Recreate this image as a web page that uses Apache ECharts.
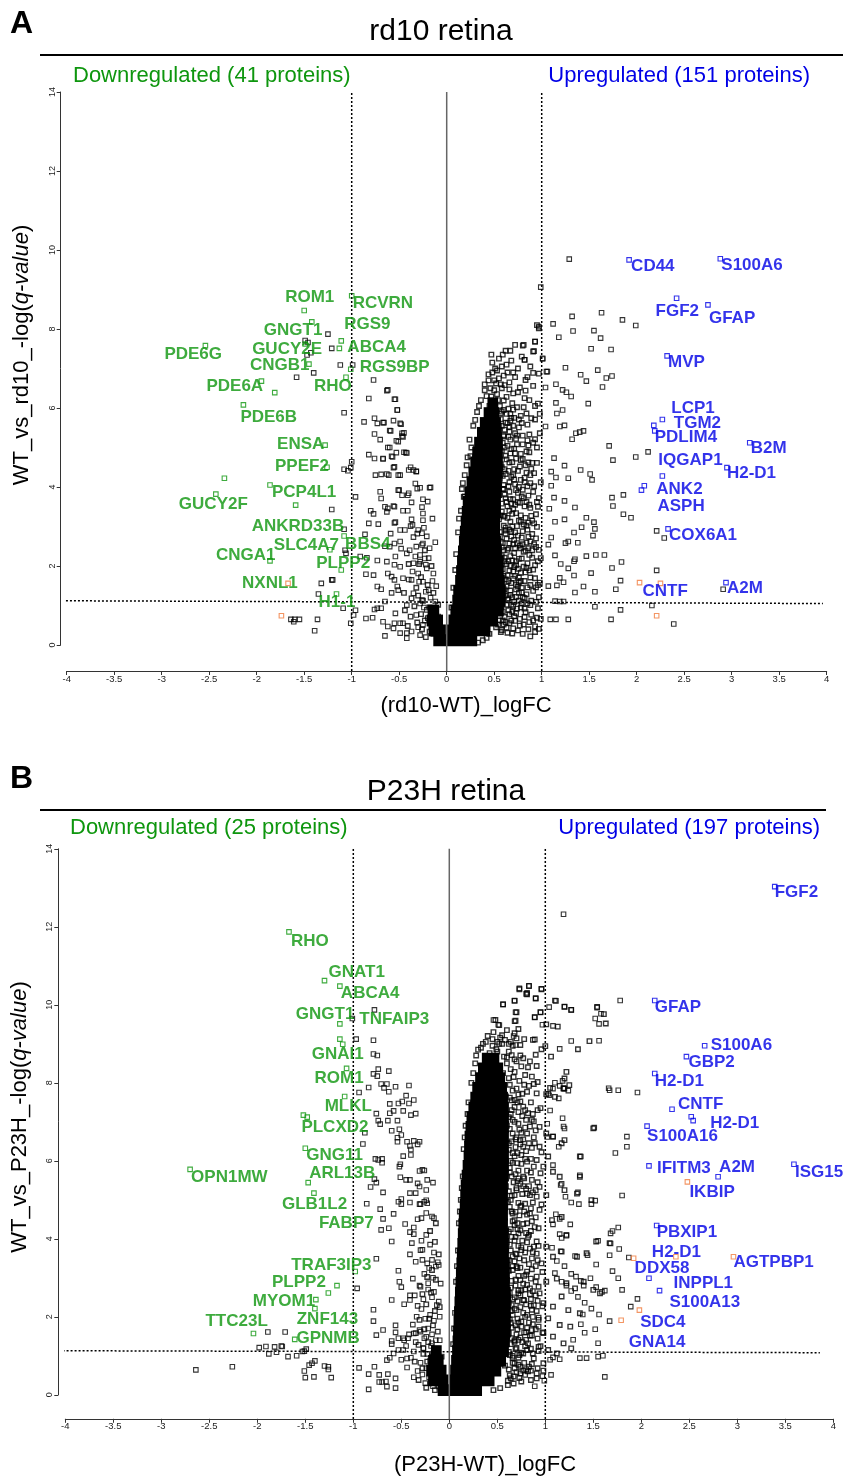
<!DOCTYPE html>
<html><head><meta charset="utf-8">
<script src="https://cdn.jsdelivr.net/npm/echarts@6/dist/echarts.min.js"></script>
<style>html,body{margin:0;padding:0;background:#fff}#c{width:843px;height:1477px}</style>
</head><body><div id="c"></div>
<script>
// ---------------- axis ticks ----------------
const xTicks = [-4,-3.5,-3,-2.5,-2,-1.5,-1,-0.5,0,0.5,1,1.5,2,2.5,3,3.5,4];
const yTicks = [0,2,4,6,8,10,12,14];
const fcThresholds = [-1, 1];

// ---------------- Panel A: rd10 ----------------
// dense core of overlapping points: [-log q, logFC from, logFC to]
const coreA = [
[0.12,-0.12,0.30],
[0.37,-0.17,-0.03],[0.37,0.02,0.44],
[0.62,-0.19,-0.06],[0.62,0.04,0.52],
[0.87,-0.18,-0.10],[0.87,0.06,0.58],
[1.12,0.08,0.60],[1.37,0.09,0.60],[1.62,0.11,0.59],[1.87,0.12,0.58],[2.12,0.13,0.58],
[2.37,0.14,0.56],[2.62,0.15,0.55],[2.87,0.16,0.54],[3.12,0.17,0.54],[3.37,0.18,0.55],
[3.62,0.19,0.55],[3.87,0.21,0.56],[4.12,0.23,0.56],[4.37,0.25,0.57],[4.62,0.27,0.57],
[4.87,0.29,0.57],[5.12,0.31,0.57],[5.37,0.34,0.56],[5.62,0.37,0.55],[5.87,0.41,0.53],[6.12,0.45,0.52]
];
// individual proteins around the core and to the right: [logFC, -log q]
const haloA = [
[0.52,0.45],[0.55,0.62],[0.58,0.38],[0.61,0.71],[0.57,0.95],[0.63,1.02],[0.66,0.55],[0.69,0.84],[0.54,1.21],[0.6,1.33],[0.65,1.18],[0.71,1.09],[0.73,1.41],[0.56,1.52],[0.62,1.66],[0.68,1.57],[0.53,1.78],[0.59,1.92],[0.66,1.88],[0.72,1.75],[0.55,2.08],[0.61,2.21],[0.69,2.14],[0.52,2.35],[0.58,2.47],[0.64,2.41],[0.71,2.33],[0.5,2.62],[0.56,2.74],[0.63,2.69],[0.68,2.86],[0.53,2.93],[0.6,3.02],[0.74,2.58],[0.48,0.85],[0.5,1.62],[0.47,2.2],[0.64,0.31],[0.7,0.42],[0.59,1.45],[0.67,2.01],[0.75,1.93],[0.51,1.08],[0.57,2.61],[0.62,2.9],[0.7,2.55],[0.45,0.28],[0.42,0.18],[0.38,0.12],[0.33,0.06],
[0.77,0.49],[0.82,0.71],[0.86,0.4],[0.91,0.62],[0.96,0.93],[0.79,1.05],[0.84,1.28],[0.89,1.12],[0.94,1.46],[0.78,1.62],[0.83,1.84],[0.88,1.71],[0.93,2.02],[0.98,1.58],[0.76,2.18],[0.81,2.36],[0.87,2.28],[0.92,2.55],[0.97,2.41],[0.79,2.72],[0.85,2.92],[0.9,2.81],[0.95,2.99],[0.99,0.66],[0.97,1.21],[0.8,0.28],[0.88,0.22],[0.93,0.33],[0.84,2.59],[0.76,1.32],[0.99,2.2],[0.91,1.91],
[0.55,3.18],[0.61,3.27],[0.67,3.12],[0.73,3.34],[0.52,3.46],[0.58,3.58],[0.64,3.51],[0.7,3.69],[0.77,3.6],[0.54,3.83],[0.6,3.95],[0.66,3.88],[0.72,4.07],[0.56,4.21],[0.62,4.33],[0.68,4.26],[0.75,4.41],[0.57,4.58],[0.63,4.7],[0.69,4.63],[0.58,4.92],[0.64,5.04],[0.71,4.97],[0.6,5.28],[0.66,5.4],[0.73,5.22],[0.62,5.63],[0.68,5.75],[0.57,5.86],[0.65,5.98],[0.78,4.84],[0.76,5.51],[0.8,3.93],[0.54,5.2],[0.55,5.55],
[0.83,3.22],[0.88,3.47],[0.94,3.31],[0.86,3.78],[0.92,4.02],[0.97,3.72],[0.82,4.23],[0.89,4.46],[0.95,4.61],[0.84,4.9],[0.91,5.12],[0.98,5.36],[0.85,5.58],[0.93,5.71],[0.99,4.12],[0.87,5.33],
[0.95,8.1],[0.97,8.02],[0.81,7.6],[0.93,7.68],[0.91,7.43],[0.82,7.22],[0.75,7.0],[0.85,6.78],[0.91,6.89],[0.52,6.62],[0.61,6.58],[0.66,6.47],[0.7,6.37],[0.77,6.52],[0.83,6.44],[0.91,6.56],[0.47,6.29],[0.54,6.2],[0.6,6.19],[0.87,6.2],[0.93,6.05],[0.45,6.05],[0.49,5.88],[0.58,5.91],[0.67,5.85],[0.74,6.02],[0.84,5.86],[0.89,5.74],[0.98,5.85],[0.72,6.78],[0.64,6.9],[0.88,7.05],[0.79,7.3],[0.81,6.02],[0.96,6.11],[0.83,6.71],[0.97,6.87],
[0.07,1.45],[0.1,2.3],[0.12,2.85],[0.15,3.4],[0.16,3.95],[0.19,4.3],[0.22,4.75],[0.24,5.2],[0.28,5.55],[0.32,5.9],[0.36,6.2],[0.4,6.45],[0.44,6.7],[0.05,0.95],[0.09,1.9],[0.13,3.2],[0.18,3.75],[0.21,4.55],[0.26,5.0],[0.3,5.7],[0.34,6.05],[0.17,4.1],[0.25,4.78],[0.19,3.76],[0.22,3.63]
];
const haloA2 = [
[0.6,0.52],[0.66,0.78],[0.72,0.61],[0.62,1.25],[0.68,1.02],[0.74,0.92],[0.6,1.75],[0.67,1.38],[0.73,1.22],[0.79,1.45],[0.63,2.05],[0.7,1.68],[0.76,1.58],[0.81,1.98],[0.6,2.4],[0.66,2.57],[0.73,2.12],[0.78,2.45],[0.62,2.82],[0.69,3.0],[0.75,2.77],[0.81,3.05],[0.6,3.25],[0.66,3.4],[0.72,3.55],[0.78,3.28],[0.62,3.72],[0.68,3.58],[0.75,3.85],[0.6,4.05],[0.66,4.12],[0.71,4.45],[0.78,4.18],[0.61,4.45],[0.67,4.85],[0.73,4.72],[0.59,5.12],[0.65,5.27],[0.7,5.55],[0.61,5.45],[0.67,5.68],[0.6,5.95],[0.56,6.05],[0.63,6.28],[0.58,6.5],[0.85,1.05],[0.88,1.52],[0.9,2.4],[0.86,3.1],[0.84,3.62],[0.88,4.1],[0.83,4.55],[0.86,5.05],[0.8,5.3],[0.78,5.8],[0.94,2.7],[0.96,3.5],[0.92,4.35],[0.95,5.0],[0.82,0.92],
[0.5,6.45],[0.55,6.75],[0.48,6.9],[0.58,7.05],[0.68,7.2],[0.62,7.45],[0.72,7.6]
];
const haloA3 = [
[0.57,0.33],[0.63,0.44],[0.69,0.29],[0.75,0.37],[0.81,0.52],[0.87,0.58],[0.93,0.47],[0.97,0.41],
[0.59,0.62],[0.65,0.88],[0.71,0.73],[0.77,0.66],[0.83,0.83],[0.89,0.77],[0.95,0.69],
[0.58,1.08],[0.64,1.15],[0.7,0.98],[0.76,1.12],[0.82,1.19],[0.88,1.01],[0.94,1.09],
[0.61,1.41],[0.67,1.27],[0.73,1.53],[0.79,1.33],[0.85,1.46],[0.91,1.37],[0.96,1.52],
[0.58,1.63],[0.64,1.77],[0.7,1.86],[0.76,1.71],[0.82,1.62],[0.87,1.89],[0.93,1.69],
[0.61,2.12],[0.67,2.25],[0.73,2.02],[0.79,2.19],[0.85,2.07],[0.9,2.21],[0.96,2.12],
[0.59,2.58],[0.65,2.45],[0.71,2.66],[0.77,2.52],[0.83,2.39],[0.88,2.62],[0.94,2.48],
[0.62,2.97],[0.68,2.75],[0.74,3.01],[0.8,2.88],[0.86,2.74],[0.92,3.08],
[0.58,3.38],[0.64,3.22],[0.7,3.45],[0.76,3.15],[0.82,3.51],[0.89,3.27],[0.95,3.62],
[0.61,3.81],[0.67,3.69],[0.73,3.92],[0.79,3.76],[0.85,4.02],[0.91,3.88],
[0.59,4.28],[0.65,4.41],[0.71,4.19],[0.77,4.52],[0.84,4.36],[0.9,4.61],
[0.62,4.79],[0.68,4.96],[0.74,5.08],[0.8,4.71],[0.87,4.88],[0.93,5.21],
[0.6,5.31],[0.66,5.52],[0.72,5.36],[0.79,5.62],[0.85,5.18],
[0.57,5.72],[0.63,5.85],[0.7,5.96],[0.76,5.71],[0.82,6.25],[0.69,6.12],[0.75,6.4]
];
const haloA4 = [
[0.42,6.3],[0.46,6.5],[0.5,6.7],[0.53,6.35],[0.57,6.6],[0.44,6.85],[0.51,7.0],[0.55,7.25],[0.6,6.82],[0.63,7.1],[0.48,7.15],[0.66,6.65],[0.7,6.9],[0.59,7.35],[0.67,7.45],[0.53,6.95],[0.4,6.6],[0.47,7.35],
[0.54,0.52],[0.59,0.85],[0.62,0.58],[0.68,0.62],[0.73,0.81],[0.78,0.95],[0.56,1.35],[0.63,1.48],[0.69,1.21],[0.75,1.48],[0.8,1.21],[0.57,1.7],[0.65,1.62],[0.71,1.97],[0.78,1.83],[0.84,1.95],[0.58,2.25],[0.65,2.12],[0.72,2.45],[0.8,2.55],[0.86,2.45],[0.56,2.86],[0.66,2.92],[0.72,2.85],[0.78,3.12],[0.84,3.02],[0.9,3.15],[0.57,3.28],[0.63,3.62],[0.69,3.32],[0.75,3.62],[0.81,3.72],[0.87,3.55],[0.59,3.95],[0.65,4.02],[0.7,4.3],[0.76,4.0],[0.82,4.12],[0.88,4.3],[0.58,4.5],[0.66,4.62],[0.72,4.85],[0.78,4.68],[0.86,4.62],[0.61,5.0],[0.67,5.2],[0.74,5.3],[0.8,5.08],[0.58,5.55],[0.64,5.62],[0.71,5.75]
];
const rightA = [
[1.29,9.77],[0.99,9.06],[1.32,8.32],[1.63,8.41],[1.85,8.23],[1.99,8.09],[1.12,8.13],[0.97,8.06],[1.33,7.95],[1.55,7.96],[1.62,7.77],[1.18,7.79],[0.93,7.68],[0.80,7.58],[1.52,7.50],[1.73,7.48],[0.92,7.44],[0.82,7.22],[1.01,7.24],[1.25,7.02],[1.59,6.96],[1.06,6.92],[1.41,6.84],[1.68,6.76],[1.74,6.81],[1.47,6.68],[1.64,6.53],[1.15,6.60],[1.22,6.46],[1.26,6.40],[1.31,6.29],[1.15,6.13],[1.49,6.11],[1.22,5.95],[1.16,5.86],[1.19,5.53],[1.24,5.56],[1.36,5.36],[1.40,5.39],[1.44,5.42],[1.32,5.21],[1.71,5.04],[1.75,4.68],[1.99,4.76],[2.12,4.89],[1.13,4.73],[1.24,4.54],[1.41,4.43],[1.51,4.33],[1.53,4.18],[1.28,4.22],[1.15,4.24],[1.10,4.39],[1.10,4.03],[1.74,3.73],[1.86,3.80],[1.75,3.52],[1.24,3.65],[1.13,3.73],[1.08,3.45],[1.35,3.48],[1.86,3.31],[1.94,3.22],[1.47,3.22],[1.55,3.11],[1.24,3.18],[1.14,3.12],[1.42,2.98],[1.56,2.94],[2.21,2.89],[2.29,2.71],[1.34,2.85],[1.54,2.77],[1.10,2.72],[1.25,2.58],[1.28,2.62],[1.38,2.59],[1.07,2.54],[1.47,2.25],[1.57,2.28],[1.66,2.28],[1.35,2.17],[1.34,2.12],[1.14,2.27],[1.20,2.05],[1.84,2.10],[1.74,1.95],[2.21,1.89],[1.28,1.94],[1.52,1.82],[1.34,1.76],[1.19,1.70],[1.83,1.63],[1.23,1.59],[1.16,1.51],[1.44,1.48],[1.78,1.41],[1.56,1.35],[1.35,1.33],[1.07,1.49],[1.14,1.11],[1.19,1.10],[1.23,1.10],[1.56,0.97],[1.83,0.89],[2.16,1.00],[1.09,0.65],[1.15,0.65],[1.28,0.65],[1.73,0.65],[2.39,0.53],[2.91,1.41],[1.04,6.52],[1.05,6.92],[1.04,5.53],[1.01,7.26]
];
const leftA = [
[-0.62,6.46],[-0.54,6.22],[-0.52,5.95],[-0.66,5.63],[-0.48,5.59],[-0.6,5.43],[-0.47,5.36],[-0.46,5.27],[-0.53,5.17],[-0.62,5.0],[-0.53,4.87],[-0.58,4.78],[-0.43,4.87],[-0.67,4.72],[-0.55,4.51],[-0.38,4.5],[-0.32,4.39],[-0.49,4.3],[-0.63,4.33],[-0.33,4.09],[-0.28,3.98],[-0.18,3.98],[-0.51,3.92],[-0.4,3.84],[-0.37,3.61],[-0.25,3.69],[-0.56,3.52],[-0.62,3.46],[-0.26,3.49],[-0.46,3.4],[-0.15,3.2],[-0.25,3.16],[-0.36,3.04],[-0.44,2.91],[-0.54,3.11],[-0.3,2.91],[-0.26,2.83],[-0.35,2.73],[-0.49,2.62],[-0.6,2.49],[-0.25,2.57],[-0.32,2.49],[-0.18,2.45],[-0.42,2.32],[-0.54,2.24],[-0.28,2.28],[-0.23,2.19],[-0.35,2.07],[-0.63,2.11],[-0.49,1.98],[-0.21,1.94],[-0.14,1.81],[-0.3,1.81],[-0.58,1.73],[-0.4,1.66],[-0.25,1.6],[-0.11,1.49],[-0.19,1.39],[-0.51,1.39],[-0.35,1.31],[-0.65,1.1],[-0.26,1.14],[-0.12,1.1],[-0.42,1.01],[-0.21,0.89],[-0.54,0.8],[-0.32,0.76],[-0.09,0.72],[-0.67,0.59],[-0.46,0.55],[-0.25,0.51],[-0.16,0.42],[-0.37,0.34],[-0.56,0.42],[-0.28,0.25],[-0.42,0.17],[-0.49,0.3],
[-0.77,6.71],[-0.63,6.44],[-0.55,6.22],[-0.82,6.24],[-0.52,5.95],[-1.08,5.88],[-0.87,5.65],[-0.76,5.74],[-0.73,5.61],[-0.67,5.63],[-0.56,5.68],[-0.49,5.61],[-0.76,5.34],[-0.7,5.2],[-0.59,5.42],[-0.45,5.37],[-0.47,5.29],[-0.6,5.0],[-0.51,5.15],[-0.82,4.82],[-0.76,4.72],[-0.67,4.71],[-0.57,4.76],[-0.45,4.88],[-0.42,4.86],[-1.08,4.45],[-1.04,4.41],[-1.01,4.49],[-1.0,4.64],[-0.75,4.3],[-0.69,4.32],[-0.61,4.3],[-0.56,4.49],[-0.51,4.3],[-0.4,4.43],[-0.35,4.43],[-0.32,4.4],[-0.96,3.75],[-0.7,3.88],[-0.69,3.71],[-0.65,3.5],[-0.55,3.5],[-0.5,3.92],[-0.47,3.79],[-0.41,3.79],[-0.31,3.96],[-0.17,3.99],[-0.8,3.4],[-0.77,3.32],[-0.63,3.37],[-0.55,3.09],[-0.41,3.4],[-0.37,3.18],[-0.25,3.33],[-0.2,3.63],[-0.82,3.08],[-0.72,3.06],[-0.59,2.82],[-0.49,2.91],[-0.38,3.01],[-0.31,2.82],[-0.24,2.97],[-0.86,2.8],[-0.55,2.57],[-0.65,2.5],[-0.48,2.44],[-0.39,2.4],[-0.26,2.53],[-1.06,2.32],[-0.91,2.24],[-0.84,2.21],[-0.73,2.14],[-0.55,2.03],[-0.33,2.24],[-0.28,2.11],[-0.22,2.03],[-0.85,1.79],[-0.77,1.77],[-0.62,1.81],[-0.55,1.65],[-0.46,1.69],[-0.36,1.86],[-0.73,1.48],[-0.69,1.41],[-0.58,1.32],[-0.52,1.48],[-0.37,1.65],[-0.29,1.6],
[-1.32,1.56],[-1.21,1.65],[-1.35,1.29],[-1.09,0.93],[-0.96,0.88],[-0.98,0.76],[-1.01,0.55],[-0.85,0.67],[-0.78,0.69],[-0.76,0.9],[-0.73,0.93],[-0.69,0.93],[-0.65,0.23],[-0.62,0.47],[-0.55,0.55],[-0.49,0.55],[-0.42,0.3],[-1.64,0.65],[-1.6,0.65],[-1.55,0.65],[-1.61,0.59],[-1.36,0.65],[-1.39,0.36],
[-1.25,7.87],[-1.21,3.43],[-1.08,2.93],[-1.21,7.51],[-1.47,7.34],[-1.43,7.40],[-1.49,7.71],[-1.46,7.66],[-1.58,6.78],[-1.40,6.89],[-0.99,7.09],[-1.12,7.09],[-1.07,2.40],[-1.20,1.65],
[-0.08,0.3],[-0.13,0.55],[-0.2,0.68],[-0.24,0.95],[-0.17,1.2],[-0.22,1.35],[-0.28,1.05],[-0.15,1.62],[-0.19,2.2],[-0.12,2.6],[-0.21,2.75],[-0.3,0.45]
];
const leftA2 = [
[-0.03,0.12],[-0.06,0.2],[-0.1,0.15],[-0.14,0.28],[-0.18,0.34],[-0.22,0.2],[-0.26,0.4],[-0.11,0.42],[-0.05,0.38],[-0.15,0.58],[-0.23,0.62],[-0.27,0.78],[-0.31,0.57],[-0.12,0.82],[-0.18,0.95],[-0.25,1.12],[-0.3,1.25],[-0.34,0.98],[-0.38,0.72],[-0.41,0.48],[-0.09,1.02],[-0.14,1.32],[-0.2,1.52],[-0.27,1.72],[-0.32,1.45],[-0.37,1.18],[-0.44,0.88],[-0.16,2.0],[-0.23,2.4],[-0.29,2.05],[-0.4,2.05],[-0.45,1.32]
];
const greenPtsA = [[-1.00,8.84],[-1.50,8.47],[-1.42,8.18],[-1.11,7.70],[-1.49,7.62],[-1.13,7.51],[-1.45,7.11],[-1.01,6.98],[-2.54,7.58],[-1.95,6.68],[-1.81,6.39],[-1.06,6.78],[-2.14,6.08],[-1.28,5.06],[-1.26,4.50],[-1.86,4.05],[-2.34,4.22],[-2.43,3.82],[-1.59,3.54],[-1.23,2.41],[-1.08,2.76],[-1.86,2.13],[-1.11,1.90],[-1.16,1.29]];
const bluePtsA = [[1.92,9.75],[2.88,9.78],[2.42,8.78],[2.75,8.61],[2.32,7.32],[2.27,5.71],[2.18,5.56],[2.19,5.42],[3.19,5.12],[2.27,4.28],[2.95,4.49],[2.08,4.03],[2.05,3.92],[2.33,2.94],[2.94,1.58]];
const orangePtsA = [[-1.67,1.56],[-1.74,0.74],[2.03,1.58],[2.25,1.56],[2.21,0.74]];
const downLabelsA = [['RCVRN',-1.00,8.84],['ROM1',-1.50,8.47],['GNGT1',-1.42,8.18],['RGS9',-1.11,7.70],['GUCY2E',-1.49,7.62],['ABCA4',-1.13,7.51],['CNGB1',-1.45,7.11],['RGS9BP',-1.01,6.98],['PDE6G',-2.54,7.58],['PDE6A',-1.95,6.68],['RHO',-1.06,6.78],['PDE6B',-2.14,6.08],['ENSA',-1.28,5.06],['PPEF2',-1.26,4.50],['PCP4L1',-1.86,4.05],['GUCY2F',-2.43,3.82],['ANKRD33B',-1.59,3.54],['SLC4A7',-1.23,2.41],['BBS4',-1.08,2.76],['CNGA1',-1.86,2.13],['PLPP2',-1.11,1.90],['NXNL1',-1.67,1.56],['H1-1',-1.16,1.29]];
const upLabelsA = [['CD44',1.92,9.75],['S100A6',2.88,9.78],['FGF2',2.42,8.78],['GFAP',2.75,8.61],['MVP',2.32,7.32],['LCP1',2.27,5.71],['TGM2',2.18,5.56],['PDLIM4',2.19,5.42],['B2M',3.19,5.12],['IQGAP1',2.27,4.28],['H2-D1',2.95,4.49],['ANK2',2.08,4.03],['ASPH',2.05,3.92],['COX6A1',2.33,2.94],['CNTF',2.25,1.56],['A2M',2.94,1.58]];
const qLineA = [[-4.05,1.12],[3.96,1.05]];

// ---------------- Panel B: P23H ----------------
const coreB = [
[0.12,-0.10,0.32],
[0.37,-0.20,-0.03],[0.37,0.02,0.45],
[0.62,-0.22,-0.05],[0.62,0.03,0.52],
[0.87,-0.20,-0.08],[0.87,0.04,0.57],
[1.12,-0.17,-0.10],[1.12,0.05,0.60],
[1.37,0.055,0.61],[1.62,0.06,0.62],[1.87,0.065,0.62],[2.12,0.07,0.62],[2.37,0.075,0.62],
[2.62,0.08,0.62],[2.87,0.085,0.61],[3.12,0.09,0.61],[3.37,0.095,0.61],[3.62,0.10,0.60],
[3.87,0.105,0.60],[4.12,0.11,0.60],[4.37,0.115,0.59],[4.62,0.12,0.59],[4.87,0.13,0.59],
[5.12,0.135,0.59],[5.37,0.14,0.59],[5.62,0.15,0.60],[5.87,0.16,0.60],[6.12,0.17,0.60],
[6.37,0.175,0.60],[6.62,0.18,0.60],[6.87,0.19,0.60],[7.12,0.20,0.60],[7.37,0.22,0.60],
[7.62,0.24,0.59],[7.87,0.26,0.58],[8.12,0.29,0.56],[8.37,0.32,0.54],[8.62,0.36,0.50]
];
const haloB = [
[0.83,10.48],[0.81,10.27],[0.73,10.4],[0.96,10.4],[0.68,10.1],[0.9,10.16],[1.11,10.1],[1.2,9.95],[1.27,9.87],[0.56,10.01],[0.7,9.81],[0.95,9.81],[0.89,9.68],[0.69,9.59],[0.48,9.61],[0.52,9.48],[1.01,9.5],[1.13,9.44],[0.68,9.27],[0.7,9.14],[0.89,9.11],[0.53,9.16],[0.64,9.05],[0.74,8.97],[1.0,8.94],[0.96,8.86],[1.06,8.67],[1.46,9.07],[1.34,8.86],[1.54,9.93],[1.61,9.76],[1.63,9.52],
[0.42,8.76],[0.49,8.86],[0.57,8.67],[0.65,8.71],[0.77,8.63],[0.82,8.4],[0.91,8.43],[0.39,8.58],[0.45,8.43],
[0.86,8.16],[0.88,7.97],[0.81,7.77],[0.91,7.73],[1.01,7.71],[1.05,7.87],[1.1,7.64],[1.19,7.86],[1.25,7.94],[1.2,8.11],[1.22,8.28],[0.68,7.56],[0.77,7.39],[0.82,7.22],[0.88,7.01],[0.94,6.87],[1.01,6.7],[1.08,6.62],[1.17,6.45],[1.2,6.53],[0.81,6.7],[0.74,6.53],[0.77,6.36],[0.89,6.45],[0.94,6.36],[1.03,6.11],[1.36,6.11],[1.5,6.83],
[0.71,5.94],[0.81,5.98],[0.91,6.02],[0.98,5.85],[1.08,5.72],[1.15,5.59],[1.36,5.59],[0.77,5.59],[0.86,5.51],[0.7,5.25],[0.81,5.16],[0.91,5.08],[1.01,5.12],[1.2,5.25],[1.33,5.16],[1.48,4.99],[0.74,4.82],[0.84,4.65],[0.94,4.74],[1.07,4.48],[1.17,4.56],[1.22,4.1],[0.81,4.4],[0.68,4.48],
[0.72,4.14],[0.82,4.05],[0.91,3.93],[1.01,3.8],[1.08,3.54],[1.17,3.67],[1.33,3.54],[1.43,3.63],[1.53,3.93],[1.67,3.89],[0.75,3.71],[0.86,3.5],[0.96,3.37],[0.7,3.29],[0.81,3.16],[0.91,3.03],[1.01,2.9],[1.12,2.98],[1.22,2.86],[1.31,2.73],[1.4,2.9],[1.5,2.69],[1.57,2.6],[0.74,2.94],[0.84,2.73],[0.94,2.6],[0.72,2.6],
[0.77,2.43],[0.88,2.3],[0.98,2.35],[1.08,2.26],[1.17,2.52],[1.24,2.17],[1.36,2.09],[0.7,2.17],[0.81,2.05],[0.93,1.92],[1.03,1.96],[1.15,1.79],[1.26,1.75],[0.75,1.75],[0.86,1.66],[0.98,1.58],[1.08,1.49],[1.19,1.32],[1.27,1.19],[0.72,1.41],[0.82,1.32],[0.93,1.23],[1.03,1.15],[1.12,1.06],[0.77,1.06],[0.88,0.93],[0.98,0.81],[0.72,0.77],[0.82,0.6],[0.91,0.42],[0.67,0.47],[0.75,0.34],[0.61,0.25],[0.53,0.17],[0.46,0.12],
[0.58,0.75],[0.62,1.1],[0.66,0.95],[0.6,1.5],[0.64,1.85],[0.68,1.4],[0.57,2.2],[0.61,2.55],[0.65,2.3],[0.69,2.8],[0.58,3.1],[0.62,3.45],[0.66,3.2],[0.6,3.9],[0.64,4.25],[0.68,3.95],[0.57,4.6],[0.61,4.95],[0.65,4.7],[0.59,5.35],[0.63,5.7],[0.67,5.45],[0.58,6.1],[0.62,6.45],[0.66,6.2],[0.6,6.9],[0.64,7.2],[0.68,7.0],[0.59,7.65],[0.63,7.95],[0.56,8.25],[0.6,8.5],[0.7,1.2],[0.71,2.4],[0.7,3.6],[0.71,4.4],[0.7,6.6],[0.72,7.7],
[0.04,1.3],[0.06,2.1],[0.07,2.9],[0.09,3.7],[0.1,4.4],[0.12,5.0],[0.14,5.6],[0.15,6.3],[0.17,6.9],[0.2,7.5],[0.23,8.0],[0.27,8.5],[0.3,8.85],[0.35,9.0],[0.05,1.7],[0.08,3.3],[0.11,4.7],[0.13,5.3],[0.16,6.6],[0.19,7.2],[0.25,8.25],[0.33,8.9],[0.38,9.05],[0.45,8.95],[0.5,8.8],[0.55,9.0],[0.4,9.2],[0.28,8.7]
];
const haloB2 = [
[0.63,0.5],[0.68,0.68],[0.74,0.55],[0.66,1.0],[0.72,0.95],[0.78,0.82],[0.64,1.3],[0.7,1.55],[0.76,1.35],[0.8,1.6],[0.65,1.72],[0.71,1.95],[0.77,2.1],[0.83,1.85],[0.64,2.15],[0.68,2.5],[0.74,2.25],[0.79,2.7],[0.85,2.45],[0.64,2.75],[0.72,3.05],[0.77,2.85],[0.83,3.35],[0.66,3.3],[0.73,3.5],[0.79,3.65],[0.64,3.7],[0.69,4.05],[0.76,3.95],[0.85,4.2],[0.66,4.45],[0.73,4.6],[0.79,4.9],[0.64,5.0],[0.7,5.3],[0.76,5.15],[0.83,5.35],[0.65,5.6],[0.72,5.75],[0.78,5.55],[0.64,6.0],[0.69,6.35],[0.75,6.15],[0.85,6.05],[0.66,6.7],[0.72,6.95],[0.79,6.85],[0.65,7.3],[0.71,7.5],[0.76,7.15],[0.85,7.5],[0.66,7.8],[0.73,8.05],[0.79,8.2],[0.64,8.35],[0.7,8.55],[0.62,8.8],[0.58,9.1],[0.46,9.3],[0.6,9.35],[0.87,2.0],[0.9,2.9],[0.88,3.8],[0.9,4.55],[0.92,5.45],[0.88,6.6],[0.92,7.3],[0.95,1.25],[0.85,0.62],[0.93,1.75]
];
const haloB3 = [
[0.61,0.36],[0.67,0.29],[0.73,0.43],[0.79,0.51],[0.85,0.38],[0.91,0.55],[0.97,0.48],
[0.62,0.65],[0.68,0.81],[0.74,0.72],[0.8,0.66],[0.86,0.79],[0.92,0.68],[0.98,0.62],
[0.63,1.02],[0.69,1.17],[0.75,1.08],[0.81,1.15],[0.87,1.06],[0.93,1.12],
[0.62,1.58],[0.68,1.36],[0.74,1.47],[0.8,1.41],[0.86,1.52],[0.92,1.44],[0.97,1.6],
[0.63,1.93],[0.69,1.78],[0.75,1.88],[0.81,1.72],[0.87,1.81],[0.93,1.98],
[0.62,2.36],[0.68,2.21],[0.74,2.55],[0.8,2.32],[0.86,2.18],[0.92,2.41],[0.97,2.27],
[0.63,2.61],[0.69,2.95],[0.75,2.68],[0.81,2.82],[0.87,2.66],[0.93,2.77],
[0.62,3.18],[0.68,3.42],[0.74,3.26],[0.8,3.08],[0.86,3.22],[0.92,3.45],[0.97,3.15],
[0.63,3.85],[0.69,3.62],[0.75,3.78],[0.81,3.91],[0.87,3.66],[0.93,3.82],
[0.62,4.18],[0.68,4.35],[0.74,4.22],[0.8,4.15],[0.86,4.45],[0.93,4.27],
[0.63,4.82],[0.69,4.69],[0.75,4.85],[0.81,4.62],[0.87,4.93],[0.96,4.88],
[0.62,5.22],[0.68,5.12],[0.74,5.41],[0.8,5.28],[0.87,5.19],[0.94,5.33],
[0.63,5.82],[0.69,5.66],[0.75,5.92],[0.81,5.75],[0.88,5.85],[0.95,5.68],
[0.62,6.28],[0.68,6.12],[0.74,6.42],[0.8,6.25],[0.86,6.33],[0.96,6.22],
[0.63,6.82],[0.69,6.55],[0.75,6.72],[0.84,6.88],[0.9,6.78],
[0.62,7.12],[0.68,7.38],[0.74,7.52],[0.8,7.05],[0.87,7.2],[0.95,7.35],
[0.63,7.62],[0.7,7.85],[0.76,7.72],[0.83,7.92],[0.92,8.02],
[0.62,8.12],[0.68,8.28],[0.75,8.42],[0.84,8.55],[0.9,8.72],[0.66,8.95],[0.78,9.12],[0.55,9.22],[0.72,9.38],[0.5,9.05]
];
const haloB4 = [
[0.64,0.42],[0.7,0.58],[0.77,0.62],[0.83,0.72],[0.66,0.82],[0.73,1.02],[0.79,1.25],[0.85,1.18],[0.65,1.45],[0.71,1.68],[0.78,1.6],[0.84,1.52],[0.9,1.68],[0.66,2.05],[0.72,1.85],[0.79,2.0],[0.85,2.28],[0.91,2.15],[0.66,2.45],[0.72,2.68],[0.78,2.42],[0.84,2.58],[0.9,2.55],[0.65,2.92],[0.71,3.25],[0.78,3.05],[0.85,2.98],[0.9,3.3],[0.66,3.55],[0.72,3.82],[0.78,3.45],[0.84,3.75],[0.91,3.62],[0.65,4.05],[0.71,4.25],[0.77,4.38],[0.83,4.1],[0.89,4.3],[0.66,4.65],[0.72,4.92],[0.78,4.7],[0.85,4.78],[0.65,5.1],[0.71,5.48],[0.77,5.35],[0.84,5.12],[0.9,5.25],[0.66,5.95],[0.72,5.55],[0.79,6.05],[0.85,5.7],[0.65,6.5],[0.71,6.2],[0.77,6.55],[0.83,6.45],[0.66,7.05],[0.73,6.8],[0.79,7.3],[0.86,7.05],[0.65,7.55],[0.72,7.25],[0.78,7.95],[0.67,8.15],[0.74,8.7],[0.6,8.65],[0.52,9.0],[0.45,9.12],[0.62,9.0],[0.68,8.6]
];
const rightB = [
[1.19,12.32],[0.73,10.42],[0.83,10.49],[0.96,10.41],[0.80,10.28],[0.81,10.31],[0.56,10.01],[0.68,10.11],[0.90,10.17],[1.10,10.11],[1.20,9.95],[1.27,9.87],[1.54,9.95],[1.78,10.11],[0.69,9.81],[0.95,9.81],[0.89,9.68],[1.04,9.94],[0.46,9.61],[0.51,9.49],[0.68,9.58],[0.97,9.49],[1.08,9.46],[1.52,9.65],[1.58,9.77],[1.56,9.51],[1.27,9.07],[1.15,8.87],[1.56,9.08],[0.87,9.1],[0.67,9.2],[0.69,8.97],[1.66,7.86],[1.67,7.81],[1.76,7.81],[1.96,7.75],[1.08,7.85],[1.15,7.92],[1.18,8.05],[1.20,7.85],[1.14,7.60],[1.04,7.68],[1.51,6.85],[1.85,6.62],[1.85,6.36],[1.73,6.20],[1.37,6.11],[1.36,5.63],[1.80,5.11],[1.34,5.19],[1.35,4.89],[1.27,4.93],[1.21,5.08],[1.17,5.41],[1.16,5.38],[1.48,4.89],[1.52,4.98],[1.11,4.63],[1.15,4.51],[1.26,4.37],[1.08,4.37],[1.76,4.29],[1.70,4.20],[1.68,4.14],[1.55,3.95],[1.68,3.88],[1.77,3.74],[1.67,3.58],[1.87,3.52],[1.80,2.69],[1.89,2.26],[1.96,2.46],[1.67,1.89],[1.52,1.68],[1.55,1.32],[1.62,0.46],[1.36,0.94],[1.43,0.94],[1.55,0.98],[1.60,1.0],[1.15,0.91],[1.08,0.96],[1.05,0.90],[1.06,0.51],[0.99,0.36],[0.89,0.22],
[1.27,3.1],[1.32,3.03],[1.37,2.92],[1.47,2.99],[1.40,2.8],[1.53,2.76],[1.62,2.67],[1.59,2.64],[1.70,3.17],[1.76,2.99],[1.53,3.34],[1.44,3.58],[1.31,3.56],[1.16,3.68],[1.07,3.77],[1.15,4.12],[1.22,4.08],[1.17,4.02],[1.12,3.43],[1.20,3.3],[1.10,3.12],[1.17,2.9],[1.22,2.8],[1.27,2.66],[1.34,2.51],[1.41,2.36],[1.48,2.21],[1.56,2.06],[1.39,2.06],[1.37,1.81],[1.29,1.41],[1.41,1.59],
[1.08,6.62],[1.18,7.09],[1.19,6.88],[1.20,6.83],[1.14,6.36],[1.08,5.89],[1.10,8.0],[1.19,7.85],[1.24,7.8],[1.03,7.72],[1.05,7.29],[1.02,6.95],[1.02,6.61]
];
const leftB = [
[-0.78,9.87],[-0.97,9.12],[-0.79,9.09],[-0.79,8.74],[-0.75,8.70],[-0.74,8.35],[-0.63,8.30],[-0.79,8.23],[-0.75,8.17],[-0.84,7.88],[-0.71,7.97],[-0.68,7.87],[-0.65,7.97],[-0.63,7.77],[-0.56,7.90],[-0.42,7.93],[-0.94,7.75],[-0.62,7.46],[-0.53,7.47],[-0.49,7.52],[-0.42,7.47],[-0.37,7.56],[-0.45,7.67],[-0.76,7.21],[-0.62,7.22],[-0.58,7.28],[-0.48,7.28],[-0.35,7.21],[-0.40,7.17],[-0.74,7.03],[-0.72,6.94],[-0.64,7.03],[-0.54,7.03],[-0.60,6.77],[-0.52,6.81],[-0.50,6.66],[-0.88,6.72],[-0.90,6.43],[-0.54,6.59],[-0.54,6.49],[-0.44,6.49],[-0.37,6.51],[-0.31,6.49],[-0.41,6.38],[-0.40,6.29],[-0.33,6.42],[-0.40,6.15],[-0.48,6.12],[-0.51,5.91],[-0.52,5.85],[-0.77,6.05],[-0.74,6.02],[-0.70,6.05],[-0.70,5.95],[-0.78,5.53],[-0.76,5.44],[-0.82,5.33],[-0.69,5.19],[-0.51,5.58],[-0.45,5.51],[-0.41,5.51],[-0.26,5.75],[-0.23,5.51],[-0.17,5.44],[-0.33,5.42],[-0.28,5.77],[-0.31,5.74],[-0.41,5.17],[-0.35,5.17],[-0.31,5.34],[-0.24,5.25],[-0.50,5.02],[-0.50,4.89],[-0.53,4.95],[-0.41,4.93],[-0.31,4.89],[-0.30,4.89],[-0.26,4.95],[-0.24,4.99],[-0.23,4.91],[-0.86,4.90],[-0.72,4.76],[-0.58,4.64],[-0.69,4.51],[-0.71,4.23],[-0.63,4.27],[-0.46,4.38],[-0.37,4.29],[-0.33,4.50],[-0.29,4.53],[-0.24,4.66],[-0.18,4.57],[-0.16,4.53],[-0.60,3.93],
[-0.41,4.17],[-0.37,4.12],[-0.39,3.89],[-0.29,3.95],[-0.24,4.10],[-0.30,3.71],[-0.28,3.72],[-0.41,3.60],[-0.35,3.41],[-0.28,3.46],[-0.23,3.37],[-0.18,3.46],[-0.11,3.33],[-0.14,3.29],[-0.53,3.18],[-0.52,2.90],[-0.50,2.76],[-0.38,2.98],[-0.96,2.73],[-0.60,2.43],[-0.41,2.55],[-0.41,2.43],[-0.47,2.32],[-0.33,2.28],[-0.30,2.77],[-0.22,2.86],[-0.16,2.64],[-0.11,2.39],[-0.79,2.18],[-0.79,1.89],[-0.56,1.78],[-0.76,3.49],
[-0.69,1.66],[-0.76,1.53],[-0.60,1.38],[-0.53,1.45],[-0.47,1.40],[-0.43,1.45],[-0.37,1.57],[-0.31,1.66],[-0.24,1.49],[-0.18,1.32],[-0.10,1.40],[-0.48,1.15],[-0.37,1.11],[-0.27,1.19],[-0.17,1.06],[-0.58,1.06],[-0.65,0.89],[-0.44,0.93],
[-0.05,0.15],[-0.09,0.28],[-0.13,0.35],[-0.17,0.22],[-0.21,0.45],[-0.25,0.3],[-0.28,0.52],[-0.12,0.6],[-0.16,0.75],[-0.2,0.88],[-0.08,0.5],[-0.24,0.68],[-0.3,0.82],[-0.33,0.61],[-0.11,0.95],[-0.15,1.1],[-0.19,1.25],[-0.23,1.05],[-0.27,1.2],[-0.14,1.4],[-0.18,1.55],[-0.22,1.7],[-0.26,1.45],[-0.3,1.62],[-0.35,1.35],[-0.16,1.9],[-0.2,2.05],[-0.25,1.95],[-0.29,2.2],[-0.34,2.0],[-0.38,1.8],[-0.42,1.55],[-0.45,1.25],[-0.4,0.95],[-0.37,0.45],[-0.44,0.7],[-0.5,0.9],[-0.53,1.15],[-0.48,1.45],[-0.56,1.6],[-0.6,1.3],[-0.62,0.95],[-0.13,2.3],[-0.18,2.5],[-0.22,2.7],[-0.27,2.45],[-0.31,2.8],[-0.36,2.55],[-0.17,3.0],[-0.21,3.25],[-0.26,3.1],[-0.12,3.4],[-0.16,3.65],[-0.2,3.85],[-0.09,2.85],[-0.1,2.0],
[-1.89,1.61],[-1.71,1.61],[-1.98,1.21],[-1.91,1.24],[-1.88,1.05],[-1.82,1.23],[-1.80,1.09],[-1.75,1.25],[-1.74,1.24],[-1.68,0.98],[-1.59,1.0],[-1.53,1.11],[-1.51,1.12],[-1.49,1.17],[-2.64,0.64],[-2.26,0.72],[-1.51,0.61],[-1.46,0.76],[-1.43,0.81],[-1.40,0.87],[-1.50,0.44],[-1.41,0.46],[-1.30,0.74],[-1.26,0.72],[-1.26,0.65],[-1.23,0.44],[-0.94,0.69],[-0.84,0.53],[-0.84,0.14],[-0.78,0.72],[-0.73,0.51],[-0.73,0.33],[-0.70,0.33],[-0.66,0.34],[-0.65,0.21],[-0.56,0.17],[-0.64,0.53],[-0.56,0.42],[-1.01,9.65]
];
const leftB2 = [
[-0.03,0.1],[-0.07,0.18],[-0.11,0.22],[-0.15,0.12],[-0.19,0.32],[-0.24,0.18],[-0.06,0.42],[-0.1,0.72],[-0.14,0.55],[-0.19,0.62],[-0.23,0.85],[-0.28,0.68],[-0.32,0.38],[-0.08,0.98],[-0.13,1.18],[-0.18,0.98],[-0.22,1.35],[-0.27,1.05],[-0.32,1.28],[-0.36,0.85],[-0.12,1.62],[-0.17,1.78],[-0.21,1.95],[-0.26,1.68],[-0.31,1.92],[-0.35,1.58],[-0.1,2.25],[-0.15,2.15],[-0.19,2.62],[-0.24,2.32],[-0.28,2.58],[-0.14,2.95],[-0.18,3.2],[-0.23,3.02],[-0.11,3.6],[-0.15,3.92],[-0.2,4.2],[-0.14,4.4]
];
const greenPtsB = [[-1.67,11.87],[-1.30,10.62],[-1.14,10.48],[-1.14,9.51],[-1.14,9.12],[-1.11,8.99],[-1.07,8.37],[-1.09,7.65],[-1.52,7.17],[-1.48,7.12],[-1.50,6.32],[-2.70,5.78],[-1.47,5.44],[-1.41,5.17],[-0.98,3.16],[-1.17,2.80],[-1.26,2.61],[-1.39,2.44],[-1.40,2.21],[-2.04,1.57],[-1.61,1.42]];
const bluePtsB = [[3.39,13.03],[2.14,10.11],[2.66,8.95],[2.47,8.67],[2.14,8.24],[2.32,7.32],[2.52,7.13],[2.54,7.03],[2.06,6.89],[2.08,5.87],[2.80,5.59],[3.59,5.91],[2.16,4.34],[2.08,2.99],[2.19,2.67]];
const orangePtsB = [[2.48,5.46],[2.36,3.54],[2.96,3.54],[1.92,3.50],[1.98,2.17],[1.79,1.91]];
const downLabelsB = [['RHO',-1.67,11.87],['GNAT1',-1.30,10.62],['ABCA4',-1.14,10.48],['GNGT1',-1.14,9.51],['TNFAIP3',-1.01,9.65],['GNAI1',-1.11,8.99],['ROM1',-1.07,8.37],['MLKL',-1.09,7.65],['PLCXD2',-1.52,7.17],['GNG11',-1.50,6.32],['OPN1MW',-2.70,5.78],['ARL13B',-1.47,5.44],['GLB1L2',-1.41,5.17],['FABP7',-1.15,4.45],['TRAF3IP3',-0.98,3.16],['PLPP2',-1.17,2.80],['MYOM1',-1.39,2.44],['TTC23L',-2.04,1.57],['ZNF143',-1.61,1.42],['GPNMB',-1.05,1.20]];
const upLabelsB = [['FGF2',3.39,13.03],['GFAP',2.14,10.11],['S100A6',2.66,8.95],['GBP2',2.47,8.67],['H2-D1',2.14,8.24],['CNTF',2.32,7.32],['H2-D1',2.54,7.03],['S100A16',2.06,6.89],['IFITM3',2.08,5.87],['A2M',2.80,5.59],['ISG15',3.59,5.91],['IKBIP',2.48,5.46],['PBXIP1',2.16,4.34],['H2-D1',2.36,3.54],['AGTPBP1',2.96,3.54],['DDX58',1.92,3.50],['INPPL1',2.19,2.67],['S100A13',1.98,2.17],['SDC4',1.79,1.91],['GNA14',1.88,1.35]];
const qLineB = [[-4.07,1.13],[3.86,1.08]];

// ---------------- layout (label offsets in px, relative to point) ----------------
const offDownA = [[1,7],[-19,-13],[-48,8],[3,-17],[-53,5],[8,-1],[-59,1],[9,-2],[-41,9],[-55,5],[-32,9],[-3,12],[-48,-1],[-52,-1],[2,7],[-37,10],[-44,21],[-56,-4],[1,8],[-54,-6],[-25,-7],[-46,0],[-18,8]];
const offUpA = [[2,6],[1,7],[-21,13],[1,13],[1,6],[9,-11],[20,-2],[0,6],[1,6],[-4,-16],[0,6],[12,3],[16,16],[1,6],[-18,8],[1,6]];
const offDownB = [[2,9],[4,-8],[1,7],[-44,-10],[7,1],[-31,10],[-32,10],[-20,10],[-2,12],[1,7],[1,8],[1,-9],[-32,11],[-20,2],[-64,-6],[-65,-3],[-63,2],[-48,-12],[2,-20],[-52,-10]];
const offUpB = [[0,6],[0,7],[6,0],[2,6],[0,8],[6,-5],[17,3],[0,10],[8,2],[1,-9],[1,8],[2,10],[0,7],[-24,-4],[0,6],[1,10],[14,-7],[30,-8],[19,2],[-1,0]];

const GREEN = '#0e960e', BLUE = '#0000e6', ORANGE = '#f07a3c';
const SANS = "'Liberation Sans', Arial, sans-serif";

function hollow(data, color, g, z, bw) {
  return {type:'scatter', xAxisIndex:g, yAxisIndex:g, data, symbol:'rect', symbolSize:4.5,
    itemStyle:{color:'rgba(0,0,0,0)', borderColor:color, borderWidth:bw || 1.1}, silent:true, z};
}
function coreSeries(data, g) {
  return {type:'custom', xAxisIndex:g, yAxisIndex:g, data, silent:true, z:1,
    encode:{x:[1,2], y:0},
    renderItem(params, api) {
      const y = api.value(0), x0 = api.value(1), x1 = api.value(2);
      const a = api.coord([x0, y + 0.125]), b = api.coord([x1, y - 0.125]);
      return {type:'rect', shape:{x:a[0]-2, y:a[1]-1, width:b[0]-a[0]+4, height:b[1]-a[1]+2}, style:{fill:'#000'}};
    }};
}
function labelSeries(labels, offs, color, g) {
  return {type:'scatter', xAxisIndex:g, yAxisIndex:g, symbolSize:0, silent:true, z:10,
    data: labels.map((l, i) => ({value:[l[1], l[2]], name:l[0],
      label:{show:true, position:[offs[i][0], offs[i][1]], align:'left', verticalAlign:'middle',
        formatter:l[0], color, fontWeight:'bold', fontSize:17, fontFamily:SANS}}))};
}
function lineSeries(data, g, color, type, width) {
  return {type:'line', xAxisIndex:g, yAxisIndex:g, data, symbol:'none', silent:true, clip:false, z:8,
    lineStyle:{color, type, width}};
}
function panelSeries(g, core, dense, sparse, green, blue, orange, dl, dOff, ul, uOff, qLine, yLow) {
  return [
    coreSeries(core, g),
    ...dense.map(h => hollow(h, '#000', g, 2, 1.35)),
    ...sparse.map(h => hollow(h, '#000', g, 2, 1.1)),
    hollow(green, GREEN, g, 3), hollow(blue, BLUE, g, 3), hollow(orange, ORANGE, g, 3),
    lineSeries([[fcThresholds[0], yLow],[fcThresholds[0], 14]], g, '#000', [2,2], 1.5),
    lineSeries([[fcThresholds[1], yLow],[fcThresholds[1], 14]], g, '#000', [2,2], 1.5),
    lineSeries([[0, yLow],[0, 14]], g, '#666', 'solid', 1.5),
    lineSeries(qLine, g, '#000', [2,2], 1.5),
    labelSeries(dl, dOff, GREEN, g), labelSeries(ul, uOff, BLUE, g)
  ];
}
function xAx(g, offset) {
  return {type:'value', gridIndex:g, min:xTicks[0], max:xTicks[xTicks.length-1], interval:0.5, offset,
    axisLine:{show:true, onZero:false, lineStyle:{color:'#333', width:1}},
    axisTick:{show:true, length:4, lineStyle:{color:'#333'}},
    axisLabel:{fontSize:9.5, color:'#222', margin:3, fontFamily:SANS},
    splitLine:{show:false}};
}
function yAx(g, offset) {
  return {type:'value', gridIndex:g, min:yTicks[0], max:yTicks[yTicks.length-1], interval:2, offset,
    axisLine:{show:true, onZero:false, lineStyle:{color:'#333', width:1}},
    axisTick:{show:true, length:4, lineStyle:{color:'#333'}},
    axisLabel:{fontSize:9, color:'#222', margin:4, rotate:90, fontFamily:SANS},
    splitLine:{show:false}};
}
function txt(x, y, text, font, color, align, extra) {
  return Object.assign({type:'text', x, y, silent:true, z:20,
    style:{text, font, fill:color, textAlign:align||'left', textVerticalAlign:'middle'}}, extra||{});
}

const chart = echarts.init(document.getElementById('c'), null, {renderer:'canvas'});
chart.setOption({
  animation:false,
  backgroundColor:'#fff',
  grid:[{left:66.7, right:16.3, top:92, bottom:832},{left:65.3, right:9.7, top:848.8, bottom:82.2}],
  xAxis:[xAx(0, 26), xAx(1, 24)],
  yAxis:[yAx(0, 6), yAx(1, 7)],
  series:[
    ...panelSeries(0, coreA, [haloA, haloA2, haloA3, haloA4, leftA2], [rightA, leftA], greenPtsA, bluePtsA, orangePtsA, downLabelsA, offDownA, upLabelsA, offUpA, qLineA, -0.66),
    ...panelSeries(1, coreB, [haloB, haloB2, haloB3, haloB4, leftB2], [rightB, leftB], greenPtsB, bluePtsB, orangePtsB, downLabelsB, offDownB, upLabelsB, offUpB, qLineB, -0.62)
  ],
  graphic:[
    txt(10, 24, 'A', "bold 32px " + SANS, '#000'),
    txt(441, 32, 'rd10 retina', "30px " + SANS, '#000', 'center'),
    {type:'line', shape:{x1:40, y1:55, x2:843, y2:55}, style:{stroke:'#000', lineWidth:2}, silent:true},
    txt(73, 76, 'Downregulated (41 proteins)', "22px " + SANS, GREEN),
    txt(810, 76, 'Upregulated (151 proteins)', "22px " + SANS, BLUE, 'right'),
    txt(466, 706, '(rd10-WT)_logFC', "22px " + SANS, '#000', 'center'),
    {type:'text', x:22, y:355, rotation:Math.PI/2, silent:true, z:20,
      style:{text:'WT_vs_rd10_-log({i|q-value})', font:"22px " + SANS, fill:'#000', textAlign:'center', textVerticalAlign:'middle',
        rich:{i:{fontStyle:'italic', fontSize:22, fontFamily:SANS}}}},
    txt(10, 779, 'B', "bold 32px " + SANS, '#000'),
    txt(446, 792, 'P23H retina', "30px " + SANS, '#000', 'center'),
    {type:'line', shape:{x1:40, y1:810, x2:826, y2:810}, style:{stroke:'#000', lineWidth:2}, silent:true},
    txt(70, 828, 'Downregulated (25 proteins)', "22px " + SANS, GREEN),
    txt(820, 828, 'Upregulated (197 proteins)', "22px " + SANS, BLUE, 'right'),
    txt(485, 1465, '(P23H-WT)_logFC', "22px " + SANS, '#000', 'center'),
    {type:'text', x:20, y:1117, rotation:Math.PI/2, silent:true, z:20,
      style:{text:'WT_vs_P23H_-log({i|q-value})', font:"22px " + SANS, fill:'#000', textAlign:'center', textVerticalAlign:'middle',
        rich:{i:{fontStyle:'italic', fontSize:22, fontFamily:SANS}}}}
  ]
});
</script></body></html>
